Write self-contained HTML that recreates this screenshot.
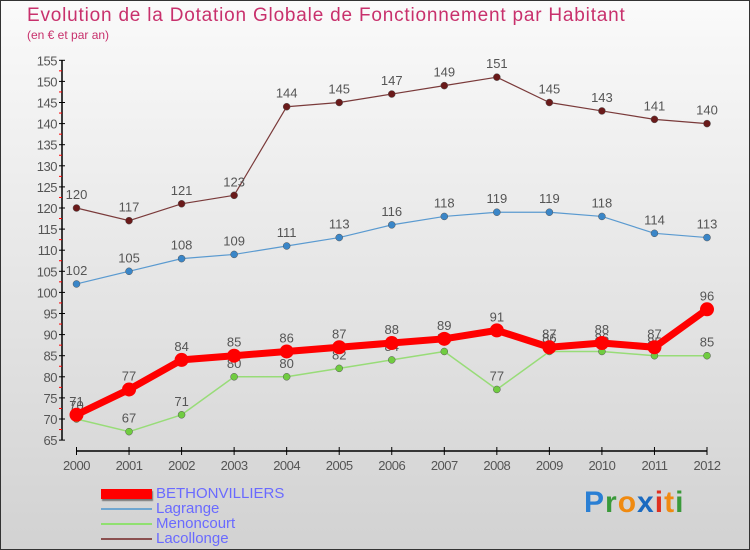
<!DOCTYPE html>
<html><head><meta charset="utf-8"><style>
body{margin:0;width:750px;height:550px;overflow:hidden;font-family:"Liberation Sans",sans-serif}
#wrap{position:relative;width:748px;height:548px;border:1px solid #333;background:linear-gradient(#fafafa,#d2d2d2)}
#title{position:absolute;left:26px;top:4px;font-size:19px;color:#c8306c;white-space:nowrap;letter-spacing:0.8px}
#sub{position:absolute;left:26px;top:27px;font-size:12px;color:#c8306c}
.leg{position:absolute;left:155px;font-size:15px;color:#6a6aff;line-height:15px}
.sw{position:absolute;left:100px;width:51px}
#logo{position:absolute;left:583px;top:485px;font-size:30px;font-weight:bold;letter-spacing:1px}
</style></head><body>
<div id="wrap">
<div id="title">Evolution de la Dotation Globale de Fonctionnement par Habitant</div>
<div id="sub">(en € et par an)</div>
<svg id="svg" width="750" height="480" style="position:absolute;left:0;top:0"></svg>
<div class="sw" style="top:488px;height:10px;background:#f00;box-shadow:1px 2px 1px #777"></div>
<div class="leg" style="top:485px">BETHONVILLIERS</div>
<div class="sw" style="top:507px;height:2px;background:#6fa6d0"></div>
<div class="leg" style="top:500px">Lagrange</div>
<div class="sw" style="top:522px;height:2px;background:#90e070"></div>
<div class="leg" style="top:515px">Menoncourt</div>
<div class="sw" style="top:537px;height:2px;background:#8b5050"></div>
<div class="leg" style="top:530px">Lacollonge</div>
<div id="logo"><span style="color:#2a7fd4">P</span><span style="color:#3a9a3a">r</span><span style="color:#f08a10">o</span><span style="color:#1a6ac0">x</span><span style="color:#e03020">i</span><span style="color:#f08a10">t</span><span style="color:#3a9a3a">i</span></div>
</div>
<script>
const years=[2000,2001,2002,2003,2004,2005,2006,2007,2008,2009,2010,2011,2012];
const yTicks=[65,70,75,80,85,90,95,100,105,110,115,120,125,130,135,140,145,150,155];
const bethon=[71,77,84,85,86,87,88,89,91,87,88,87,96];
const lagrange=[102,105,108,109,111,113,116,118,119,119,118,114,113];
const menoncourt=[70,67,71,80,80,82,84,86,77,86,86,85,85];
const lacollonge=[120,117,121,123,144,145,147,149,151,145,143,141,140];
const NS='http://www.w3.org/2000/svg';
const svg=document.getElementById('svg');
const X=i=>75.5+i*(706-75.5)/12;
const Y=v=>418-(v-70)*21.1/5;
function mk(t,a,p){const e=document.createElementNS(NS,t);for(const k in a)e.setAttribute(k,a[k]);(p||svg).appendChild(e);return e;}
let ya=mk('line',{x1:61,y1:Y(155),x2:61,y2:Y(65),stroke:'#000','stroke-width':1.5});


yTicks.forEach(v=>{
  mk('line',{x1:58,x2:64,y1:Y(v),y2:Y(v),stroke:'#000'});
  if(v<155)mk('line',{x1:58,x2:61,y1:Y(v+2.5),y2:Y(v+2.5),stroke:'#f00'});
  const t=mk('text',{x:56,y:Y(v)+5,'text-anchor':'end','font-size':13,fill:'#555','letter-spacing':'-0.5'});
  t.textContent=v;
  
  
});
let xa=mk('line',{x1:X(0),x2:X(12),y1:450,y2:450,stroke:'#000','stroke-width':1.5});


years.forEach((yr,i)=>{
  mk('line',{x1:X(i),x2:X(i),y1:446,y2:454,stroke:'#000'});
  const t=mk('text',{x:X(i),y:469,'text-anchor':'middle','font-size':13,fill:'#555','letter-spacing':'-0.5'});
  t.textContent=yr;
  
  
});
function series(name,vals,color,w,r,dot){
  const g=mk('g',{});
  
  
  mk('polyline',{points:vals.map((v,i)=>X(i)+','+Y(v)).join(' '),fill:'none',stroke:color,'stroke-width':w,'stroke-linejoin':'round'},g);
  vals.forEach((v,i)=>{
    const c=mk('circle',{cx:X(i),cy:Y(v),r:r,fill:dot,stroke:w>3?'none':'#555','stroke-width':0.5},g);
    
    
    const t=mk('text',{x:X(i),y:Y(v)-9,'text-anchor':'middle','font-size':13,fill:'#555'},g);
    t.textContent=v;
    
    
  });
}
series('lacollonge',lacollonge,'#7a3a3a',1.2,3.5,'#6a1a1a');
series('lagrange',lagrange,'#5a9ad0',1.2,3.5,'#3a86c8');
series('menoncourt',menoncourt,'#98dc78',1.5,3.5,'#70cc40');
series('bethonvilliers',bethon,'#f00',7,7,'#f00');
</script>
</body></html>
